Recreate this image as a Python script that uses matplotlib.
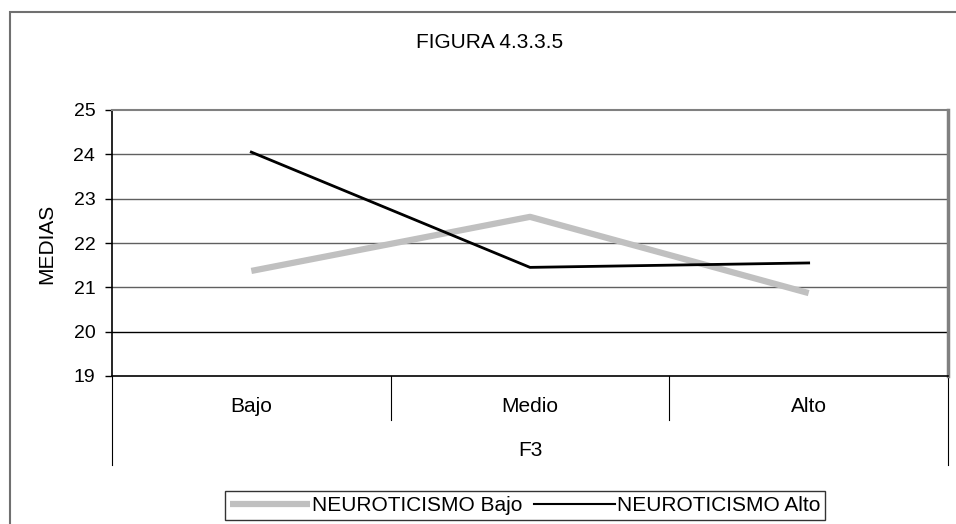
import matplotlib.pyplot as plt
from matplotlib.patches import Rectangle
from matplotlib.lines import Line2D

# data
categories = ["Bajo", "Medio", "Alto"]
neuro_bajo = [21.37, 22.59, 20.87]
neuro_alto = [24.05, 21.45, 21.55]
series_names = ["NEUROTICISMO Bajo", "NEUROTICISMO Alto"]
y_ticks = [19, 20, 21, 22, 23, 24, 25]

plt.rcParams['font.family'] = ['Liberation Sans', 'DejaVu Sans']
FS = 15

W, H = 956, 524
fig = plt.figure(figsize=(W / 100, H / 100), dpi=100)

# outer chart border (cut off at right and bottom like the original)
fig.patches.append(Rectangle((10 / W, -0.1), 1.1, (H - 12) / H + 0.1,
                             transform=fig.transFigure, fill=False,
                             edgecolor='#707070', linewidth=1.5))

left, right, top, bottom = 112, 948, 110, 376
ax = fig.add_axes([left / W, (H - bottom) / H, (right - left) / W, (bottom - top) / H])

x = list(range(len(categories)))
ax.plot(x, neuro_bajo, color='#c0c0c0', linewidth=4.5, solid_capstyle='butt',
        label=series_names[0], zorder=3)
ax.plot(x, neuro_alto, color='black', linewidth=2, label=series_names[1], zorder=4)

ax.set_xlim(-0.5, len(categories) - 0.5)
ax.set_ylim(19, 25)
ax.set_yticks(y_ticks)
ax.set_yticklabels([str(t) for t in y_ticks], fontsize=14)
for t in y_ticks[1:-1]:
    ax.axhline(t, color='black' if t == 20 else '#606060', linewidth=1, zorder=1)

ax.set_xticks([])
ax.tick_params(axis='y', length=5, width=1, pad=7)
ax.spines['top'].set_color('#808080')
ax.spines['top'].set_linewidth(1.5)
ax.spines['right'].set_color('#808080')
ax.spines['right'].set_linewidth(2.5)
ax.spines['left'].set_linewidth(1.2)
ax.spines['bottom'].set_linewidth(1.2)

fig.text(47 / W, 1 - 243.5 / H, "MEDIAS", rotation=90, ha='center', va='center', fontsize=FS)

# category axis table below the plot
ax_h = bottom - top
sep_y = -44 / ax_h
out_y = -89 / ax_h
for xs in [0.5, 1.5]:
    ax.plot([xs, xs], [0, sep_y], color='black', linewidth=0.8,
            transform=ax.get_xaxis_transform(), clip_on=False)
for xs in [-0.5, len(categories) - 0.5]:
    ax.plot([xs, xs], [0, out_y], color='black', linewidth=0.8,
            transform=ax.get_xaxis_transform(), clip_on=False)
for i, c in enumerate(categories):
    ax.text(i, -31 / ax_h, c, ha='center', va='center', fontsize=FS,
            transform=ax.get_xaxis_transform())
ax.text(1, -75 / ax_h, "F3", ha='center', va='center', fontsize=FS,
        transform=ax.get_xaxis_transform())

fig.text(490 / W, 1 - 42 / H, "FIGURA 4.3.3.5", ha='center', va='center', fontsize=FS)

handles = [Line2D([], [], color='#c0c0c0', linewidth=4.5, solid_capstyle='butt'),
           Line2D([], [], color='black', linewidth=1.5)]
leg = fig.legend(handles, series_names, loc='upper left',
                 bbox_to_anchor=(225 / W, 1 - 491 / H), ncol=2, fontsize=FS,
                 frameon=True, fancybox=False, handlelength=3.85, handletextpad=0.1,
                 columnspacing=0.55, borderpad=0.25, borderaxespad=0)
leg.get_frame().set_edgecolor('black')
leg.get_frame().set_linewidth(1)

fig.savefig("out.png", dpi=100)
